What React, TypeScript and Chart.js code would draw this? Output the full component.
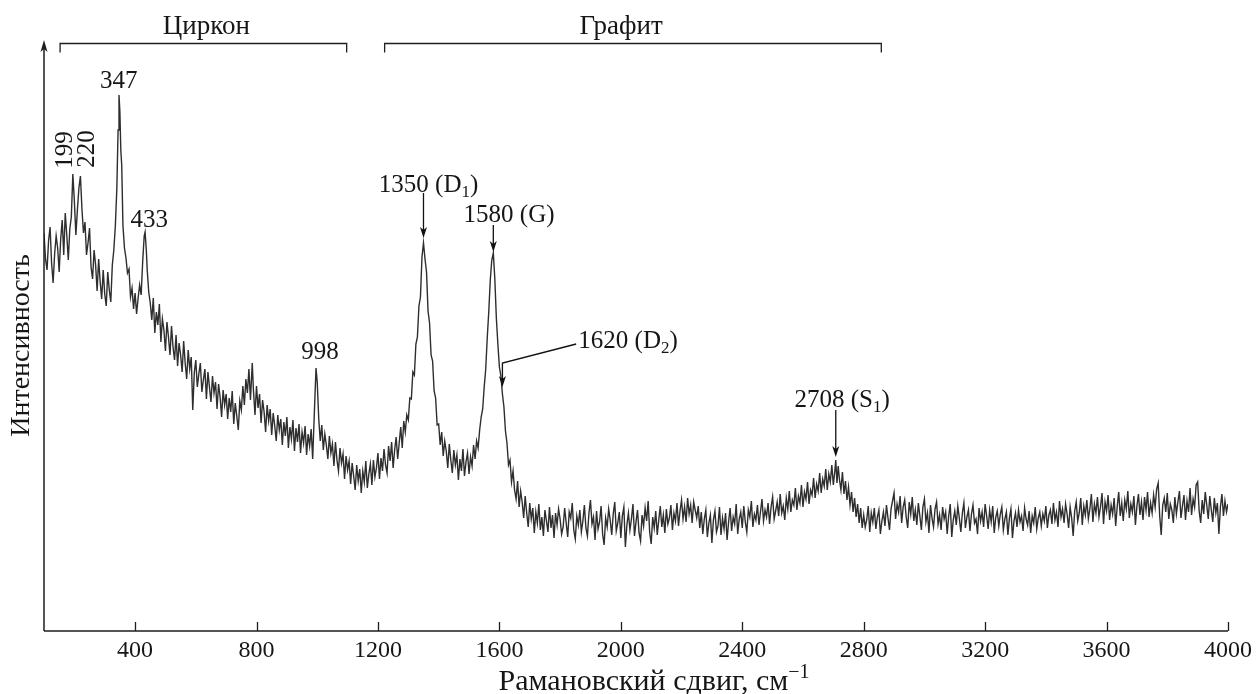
import { useEffect, useRef } from 'react';
import { Chart, registerables } from 'chart.js';

Chart.register(...registerables);

const FONT = "'Liberation Serif', 'Times New Roman', serif";
const TEXT_COLOR = '#161616';
const LINE_COLOR = '#2e2e2e';

const X_TICKS = [400, 800, 1200, 1600, 2000, 2400, 2800, 3200, 3600, 4000];
const SHIFT_MIN = 100;
const SHIFT_MAX = 4000;
const INTENSITY_MAX = 591;

const X_TITLE: Part[] = [{ t: 'Рамановский сдвиг, см' }, { t: '−1', sup: true }];
const Y_TITLE = 'Интенсивность';

// Raman shift (cm-1), intensity (arb. units)
const ZIRCON_PART: [number, number][] = [
  [100,398],[105,372],[110,361],[115,390],[120,404],[125,368],[130,348],[135,377],[140,395],[145,383],
  [150,359],[155,392],[160,411],[165,376],[170,418],[175,396],[180,371],[185,402],[190,414],[195,457],
  [200,430],[205,396],[210,421],[215,443],[220,455],[225,422],[230,398],[235,409],[240,376],[245,388],
  [250,403],[255,364],[260,352],[265,381],[270,366],[275,340],[280,372],[285,349],[290,332],[295,361],
  [300,337],[305,325],[310,359],[315,341],[320,329],[325,366],[330,381],[335,405],[340,443],[344,501],
  [347,536],[350,519],[353,481],[356,466],[360,406],[365,383],[370,373],[375,358],[380,362],[385,334],
  [390,343],[395,322],[400,338],[405,317],[410,333],[415,346],[420,336],[425,369],[430,395],[433,399],
  [437,381],[440,361],[445,339],[450,328],[455,311],[460,333],[465,298],[470,319],[475,306],[480,327],
  [485,289],[490,312],[495,301],[500,280],[505,309],[510,294],[515,276],[520,305],[525,284],[530,271],
  [535,296],[540,265],[545,288],[550,276],[555,259],[560,290],[565,268],[570,252],[575,281],[580,262],
  [585,274],[590,221],[595,258],[600,271],[605,244],[610,257],[615,268],[620,239],[625,251],[630,262],
  [635,232],[640,259],[645,244],[650,229],[655,255],[660,238],[665,249],[670,222],[675,247],[680,234],
  [685,214],[690,241],[695,226],[700,237],[705,212],[710,233],[715,219],[720,240],[725,207],[730,228],
  [735,215],[740,201],[745,230],[750,221],[755,245],[760,226],[765,252],[770,238],[775,262],[780,231],
  [786,268],[790,240],[795,216],[800,245],[805,223],[810,237],[815,208],[820,231],[825,219],[830,199],
  [835,226],[840,210],[845,222],[850,196],[855,218],[860,205],[865,190],[870,216],[875,201],[880,212],
  [885,186],[890,209],[895,195],[900,214],[905,183],[910,204],[915,192],[920,211],[925,180],[930,203],
  [935,189],[940,207],[945,178],[950,199],[955,188],[960,205],[965,176],[970,197],[975,185],[980,202],
  [985,172],[990,214],[996,263],[1000,249],[1005,212],[1010,190],[1015,206],[1020,181],[1025,197],[1030,186],
  [1035,172],[1040,195],[1045,178],[1050,187],[1055,165],[1060,189],[1065,171],[1070,160],[1075,183],[1080,168],
  [1085,177],[1090,152],[1095,175],[1100,161],[1105,170],[1110,147],[1115,168],[1120,155],[1125,141],[1130,166],
  [1135,150],[1140,162],[1145,138],[1150,160],[1155,149],[1160,170],[1165,143],[1170,157],[1175,167],[1180,146],
  [1185,171],[1190,154],[1195,163],[1200,178],[1205,152],[1210,173],[1215,160],[1220,182],[1225,166],[1230,158],
  [1235,185],[1240,170],[1245,189],[1250,163],[1255,181],[1260,194],[1265,172],[1270,188],[1275,204],[1280,183],
  [1285,210],[1290,199],[1295,216],
];

const GRAPHITE_PART: [number, number][] = [
  [1300,211],[1305,233],[1310,232],[1315,259],[1320,256],[1325,287],[1330,294],[1335,325],[1340,334],[1345,374],
  [1350,388],[1355,372],[1360,359],[1365,320],[1370,308],[1375,276],[1380,270],[1385,240],[1390,233],[1395,206],
  [1400,207],[1405,186],[1410,199],[1415,175],[1420,190],[1425,180],[1430,163],[1435,187],[1440,171],[1445,158],
  [1450,181],[1455,166],[1460,176],[1465,151],[1470,172],[1475,160],[1480,182],[1485,155],[1490,169],[1495,178],
  [1500,157],[1505,174],[1510,165],[1515,186],[1520,172],[1525,190],[1530,183],[1535,201],[1540,214],[1545,222],
  [1550,244],[1555,262],[1560,293],[1565,319],[1570,351],[1575,371],[1580,378],[1585,352],[1590,313],[1595,287],
  [1600,264],[1605,255],[1610,237],[1615,224],[1620,200],[1625,188],[1630,166],[1635,171],[1640,149],[1645,160],
  [1650,141],[1655,132],[1660,150],[1665,124],[1670,140],[1675,129],[1680,113],[1685,135],[1690,118],[1695,104],
  [1700,128],[1705,112],[1710,123],[1715,98],[1720,119],[1725,108],[1730,127],[1735,101],[1740,114],[1745,95],
  [1750,121],[1755,110],[1760,99],[1765,124],[1770,103],[1775,116],[1780,93],[1785,118],[1790,106],[1795,122],
];

const MIDDLE_PART: [number, number][] = [
  [1800,112],[1805,97],[1810,104],[1815,123],[1820,108],[1825,94],[1830,119],[1835,113],[1840,128],[1845,101],
  [1850,92],[1855,115],[1860,106],[1865,121],[1870,99],[1875,110],[1880,126],[1885,103],[1890,95],[1895,118],
  [1900,131],[1905,107],[1910,114],[1915,91],[1920,120],[1925,102],[1930,109],[1935,125],[1940,97],[1945,86],
  [1950,113],[1955,104],[1960,122],[1965,111],[1970,96],[1975,117],[1980,129],[1985,100],[1990,108],[1995,119],
  [2000,93],[2005,115],[2010,124],[2015,84],[2020,106],[2025,118],[2030,101],[2035,112],[2040,127],[2045,95],
  [2050,109],[2055,121],[2060,98],[2065,90],[2070,116],[2075,105],[2080,123],[2085,110],[2090,130],[2095,99],
  [2100,87],[2105,114],[2110,103],[2115,120],[2120,96],[2125,111],[2130,125],[2135,104],[2140,116],[2145,98],
  [2150,122],[2155,107],[2160,113],[2165,126],[2170,101],[2175,118],[2180,110],[2185,128],[2190,105],[2195,120],
  [2200,131],[2205,112],[2210,124],[2215,109],[2220,133],[2225,117],[2230,126],[2235,108],[2240,129],[2245,121],
  [2250,113],[2255,125],[2260,103],[2265,119],[2270,97],[2275,112],[2280,121],[2285,94],[2290,108],[2295,116],
  [2300,88],[2305,111],[2310,120],[2315,99],[2320,105],[2325,124],[2330,96],[2335,113],[2340,102],[2345,118],
  [2350,91],[2355,109],[2360,123],[2365,100],[2370,114],[2375,107],[2380,127],[2385,97],[2390,112],[2395,119],
  [2400,103],[2405,125],[2410,109],[2415,99],[2420,121],[2425,114],[2430,130],[2435,104],[2440,117],[2445,111],
  [2450,126],[2455,106],[2460,119],[2465,132],[2470,110],[2475,121],[2480,114],[2485,128],[2490,107],[2495,124],
  [2500,134],[2505,112],[2510,120],[2515,129],[2520,115],[2525,137],[2530,118],[2535,125],[2540,111],[2545,133],
  [2550,122],[2555,140],[2560,119],[2565,131],[2570,126],[2575,143],[2580,121],[2585,135],[2590,128],[2595,146],
  [2600,124],[2605,139],[2610,132],[2615,149],[2620,127],[2625,141],[2630,136],[2635,153],[2640,133],[2645,147],
  [2650,140],[2655,158],[2660,138],[2665,152],[2670,145],[2675,162],[2680,141],[2685,157],[2690,149],[2695,166],
  [2700,146],[2705,160],[2708,171],[2712,148],[2716,165],[2720,152],[2725,141],[2730,159],[2735,137],[2740,150],
  [2745,131],[2750,144],[2755,126],[2760,139],[2765,119],[2770,133],[2775,114],[2780,127],[2785,108],[2790,123],
  [2795,103],
];

const TAIL_PART: [number, number][] = [
  [2800,116],[2805,104],[2810,111],[2815,125],[2820,99],[2825,118],[2830,109],[2835,123],[2840,102],[2845,114],
  [2850,121],[2855,97],[2860,110],[2865,119],[2870,105],[2875,126],[2880,113],[2885,101],[2890,122],[2895,130],
  [2900,138],[2905,112],[2910,127],[2915,119],[2920,135],[2925,108],[2930,124],[2935,131],[2940,114],[2945,103],
  [2950,129],[2955,117],[2960,134],[2965,110],[2970,121],[2975,106],[2980,128],[2985,115],[2990,101],[2995,124],
  [3000,132],[3005,109],[3010,118],[3015,98],[3020,126],[3025,113],[3030,104],[3035,122],[3040,129],[3045,107],
  [3050,116],[3055,101],[3060,124],[3065,112],[3070,119],[3075,97],[3080,115],[3085,127],[3090,94],[3095,111],
  [3100,120],[3105,106],[3110,125],[3115,113],[3120,99],[3125,118],[3130,128],[3135,103],[3140,114],[3145,121],
  [3150,100],[3155,117],[3160,126],[3165,108],[3170,112],[3175,97],[3180,123],[3185,110],[3190,119],[3195,104],
  [3200,127],[3205,115],[3210,102],[3215,121],[3220,109],[3225,125],[3230,98],[3235,114],[3240,120],[3245,105],
  [3250,117],[3255,124],[3260,101],[3265,112],[3270,119],[3275,96],[3280,113],[3285,122],[3290,93],[3295,110],
  [3300,118],[3305,104],[3310,121],[3315,109],[3320,115],[3325,100],[3330,123],[3335,112],[3340,106],[3345,120],
  [3350,98],[3355,115],[3360,108],[3365,124],[3370,102],[3375,113],[3380,119],[3385,105],[3390,117],[3395,110],
  [3400,125],[3405,103],[3410,116],[3415,121],[3420,107],[3425,128],[3430,111],[3435,119],[3440,104],[3445,130],
  [3450,114],[3455,122],[3460,108],[3465,127],[3470,117],[3475,103],[3480,124],[3485,113],[3490,95],[3495,120],
  [3500,129],[3505,110],[3510,118],[3515,133],[3520,106],[3525,125],[3530,116],[3535,131],[3540,112],[3545,122],
  [3550,137],[3555,109],[3560,127],[3565,118],[3570,134],[3575,114],[3580,124],[3585,138],[3590,107],[3595,129],
  [3600,120],[3605,136],[3610,111],[3615,126],[3620,117],[3625,133],[3630,105],[3635,124],[3640,139],[3645,115],
  [3650,128],[3655,110],[3660,131],[3665,122],[3670,140],[3675,113],[3680,127],[3685,119],[3690,135],[3695,106],
  [3700,125],[3705,137],[3710,116],[3715,129],[3720,111],[3725,134],[3730,121],[3735,139],[3740,114],[3745,128],
  [3750,118],[3755,136],[3760,124],[3765,142],[3770,148],[3775,115],[3780,96],[3785,126],[3790,133],[3795,119],
  [3800,138],[3805,112],[3810,127],[3815,121],[3820,108],[3825,134],[3830,117],[3835,129],[3840,140],[3845,113],
  [3850,125],[3855,136],[3860,111],[3865,130],[3870,119],[3875,143],[3880,116],[3885,132],[3890,124],[3895,146],
  [3900,149],[3905,120],[3910,108],[3915,131],[3920,117],[3925,139],[3930,126],[3935,112],[3940,135],[3945,121],
  [3950,109],[3955,133],[3960,118],[3965,128],[3970,97],[3975,124],[3980,137],[3985,115],[3990,130],[3995,119],
  [4000,127],
];

// Region brackets (shift range) and captions
const REGIONS = [
  { label: 'Циркон', from: 153, to: 1097, center: 635 },
  { label: 'Графит', from: 1222, to: 2858, center: 2001 },
];

type Part = { t: string; sub?: boolean; sup?: boolean };
// Peak labels: anchor in data units (shift, intensity)
const PEAK_LABELS: { parts: Part[]; x: number; y: number; align: 'left' | 'center'; rotate?: boolean }[] = [
  { parts: [{ t: '199' }], x: 172, y: 481, align: 'center', rotate: true },
  { parts: [{ t: '220' }], x: 242, y: 482, align: 'center', rotate: true },
  { parts: [{ t: '347' }], x: 346, y: 543, align: 'center' },
  { parts: [{ t: '433' }], x: 447, y: 404, align: 'center' },
  { parts: [{ t: '998' }], x: 1009, y: 272, align: 'center' },
  { parts: [{ t: '1350 (D' }, { t: '1', sub: true }, { t: ')' }], x: 1203, y: 439, align: 'left' },
  { parts: [{ t: '1580 (G)' }], x: 1482, y: 409, align: 'left' },
  { parts: [{ t: '1620 (D' }, { t: '2', sub: true }, { t: ')' }], x: 1860, y: 283, align: 'left' },
  { parts: [{ t: '2708 (S' }, { t: '1', sub: true }, { t: ')' }], x: 2572, y: 224, align: 'left' },
];

// Arrows: polyline in data units, last point is the tip
const ARROWS: [number, number][][] = [
  [[1350, 438], [1350, 393]],
  [[1580, 406], [1580, 379]],
  [[1853, 287], [1610, 268], [1610, 244]],
  [[2708, 221], [2708, 174]],
];

const LABEL_SIZE = 25;
const REGION_SIZE = 27;
const TICK_SIZE = 24;
const X_TITLE_SIZE = 30;
const Y_TITLE_SIZE = 28;

function drawRich(ctx: CanvasRenderingContext2D, parts: Part[], x: number, y: number, align: 'left' | 'center', size: number) {
  const main = `${size}px ${FONT}`;
  const small = `${Math.round(size * 0.66)}px ${FONT}`;
  let total = 0;
  for (const p of parts) {
    ctx.font = p.sub || p.sup ? small : main;
    total += ctx.measureText(p.t).width;
  }
  let cx = align === 'center' ? x - total / 2 : x;
  ctx.textAlign = 'left';
  ctx.textBaseline = 'alphabetic';
  for (const p of parts) {
    ctx.font = p.sub || p.sup ? small : main;
    const dy = p.sub ? size * 0.2 : p.sup ? -size * 0.4 : 0;
    ctx.fillText(p.t, cx, y + dy);
    cx += ctx.measureText(p.t).width;
  }
}

const decorPlugin = {
  id: 'decor',
  afterDraw(chart: any) {
    const { ctx, chartArea, scales } = chart;
    const xs = scales.x;
    const ys = scales.y;
    const { left, right, top, bottom } = chartArea;
    ctx.save();
    ctx.strokeStyle = '#1e1e1e';
    ctx.fillStyle = '#1e1e1e';
    ctx.lineWidth = 1.5;
    // axes
    ctx.beginPath();
    ctx.moveTo(left, bottom);
    ctx.lineTo(left, top + 4);
    ctx.moveTo(left, bottom);
    ctx.lineTo(right, bottom);
    ctx.stroke();
    // arrow head on the intensity axis
    ctx.beginPath();
    ctx.moveTo(left, top);
    ctx.lineTo(left - 3.5, top + 12);
    ctx.lineTo(left, top + 9);
    ctx.lineTo(left + 3.5, top + 12);
    ctx.closePath();
    ctx.fill();
    // inward tick marks
    ctx.lineWidth = 1.3;
    ctx.beginPath();
    for (const v of X_TICKS) {
      const px = Math.round(xs.getPixelForValue(v)) + 0.5;
      ctx.moveTo(px, bottom);
      ctx.lineTo(px, bottom - 9);
    }
    ctx.stroke();

    // axis titles
    ctx.fillStyle = TEXT_COLOR;
    drawRich(ctx, X_TITLE, (left + right) / 2 + 18, 690, 'center', X_TITLE_SIZE);
    ctx.save();
    ctx.translate(22, (top + bottom) / 2 + 10);
    ctx.rotate(-Math.PI / 2);
    ctx.font = `${Y_TITLE_SIZE}px ${FONT}`;
    ctx.textAlign = 'center';
    ctx.textBaseline = 'middle';
    ctx.fillText(Y_TITLE, 0, 0);
    ctx.restore();

    // region brackets
    ctx.lineWidth = 1.3;
    const by = top + 3.5;
    for (const r of REGIONS) {
      const x1 = xs.getPixelForValue(r.from);
      const x2 = xs.getPixelForValue(r.to);
      ctx.beginPath();
      ctx.moveTo(x1, by + 9);
      ctx.lineTo(x1, by);
      ctx.lineTo(x2, by);
      ctx.lineTo(x2, by + 9);
      ctx.stroke();
      ctx.fillStyle = TEXT_COLOR;
      drawRich(ctx, [{ t: r.label }], xs.getPixelForValue(r.center), top - 6, 'center', REGION_SIZE);
    }

    // peak labels
    ctx.fillStyle = TEXT_COLOR;
    for (const l of PEAK_LABELS) {
      const px = xs.getPixelForValue(l.x);
      const py = ys.getPixelForValue(l.y);
      if (l.rotate) {
        ctx.save();
        ctx.translate(px, py);
        ctx.rotate(-Math.PI / 2);
        ctx.font = `${LABEL_SIZE}px ${FONT}`;
        ctx.textAlign = 'center';
        ctx.textBaseline = 'middle';
        ctx.fillText(l.parts[0].t, 0, 0);
        ctx.restore();
      } else {
        drawRich(ctx, l.parts, px, py, l.align, LABEL_SIZE);
      }
    }

    // arrows
    ctx.strokeStyle = '#111';
    ctx.fillStyle = '#111';
    ctx.lineWidth = 1.3;
    for (const a of ARROWS) {
      const pts = a.map(([vx, vy]) => [xs.getPixelForValue(vx), ys.getPixelForValue(vy)]);
      ctx.beginPath();
      ctx.moveTo(pts[0][0], pts[0][1]);
      for (let i = 1; i < pts.length; i++) ctx.lineTo(pts[i][0], pts[i][1] - (i === pts.length - 1 ? 6 : 0));
      ctx.stroke();
      const [tx, ty] = pts[pts.length - 1];
      ctx.beginPath();
      ctx.moveTo(tx, ty);
      ctx.lineTo(tx - 3.5, ty - 11);
      ctx.lineTo(tx, ty - 8);
      ctx.lineTo(tx + 3.5, ty - 11);
      ctx.closePath();
      ctx.fill();
    }
    ctx.restore();
  },
};

export default function App() {
  const ref = useRef<HTMLCanvasElement | null>(null);
  useEffect(() => {
    if (!ref.current) return;
    const points = [...ZIRCON_PART, ...GRAPHITE_PART, ...MIDDLE_PART, ...TAIL_PART].map(([x, y]) => ({ x, y }));
    const chart = new Chart(ref.current, {
      type: 'line',
      data: {
        datasets: [
          {
            label: 'Спектр КР',
            data: points,
            borderColor: LINE_COLOR,
            borderWidth: 1.4,
            pointRadius: 0,
            tension: 0,
            fill: false,
          },
        ],
      },
      options: {
        animation: false,
        responsive: false,
        devicePixelRatio: 1,
        layout: { padding: { left: 0, right: 26, top: 40, bottom: 0 } },
        plugins: { legend: { display: false }, tooltip: { enabled: false } },
        scales: {
          x: {
            type: 'linear',
            min: SHIFT_MIN,
            max: SHIFT_MAX,
            grid: { display: false, drawTicks: false },
            border: { display: false },
            afterBuildTicks: (s: any) => {
              s.ticks = X_TICKS.map((v) => ({ value: v }));
            },
            afterFit: (s: any) => {
              s.height = 63;
            },
            ticks: {
              padding: 5,
              maxRotation: 0,
              autoSkip: false,
              color: TEXT_COLOR,
              font: { family: FONT, size: TICK_SIZE },
              callback: (v: any) => String(v),
            },
            title: { display: false },
          },
          y: {
            type: 'linear',
            min: 0,
            max: INTENSITY_MAX,
            grid: { display: false, drawTicks: false },
            border: { display: false },
            ticks: { display: false },
            afterFit: (s: any) => {
              s.width = 44;
            },
            title: { display: false },
          },
        },
      },
      plugins: [decorPlugin],
    });
    return () => chart.destroy();
  }, []);
  return (
    <div style={{ position: 'absolute', left: 0, top: 0, width: 1257, height: 694, background: '#fff' }}>
      <canvas ref={ref} width={1257} height={694} />
    </div>
  );
}
